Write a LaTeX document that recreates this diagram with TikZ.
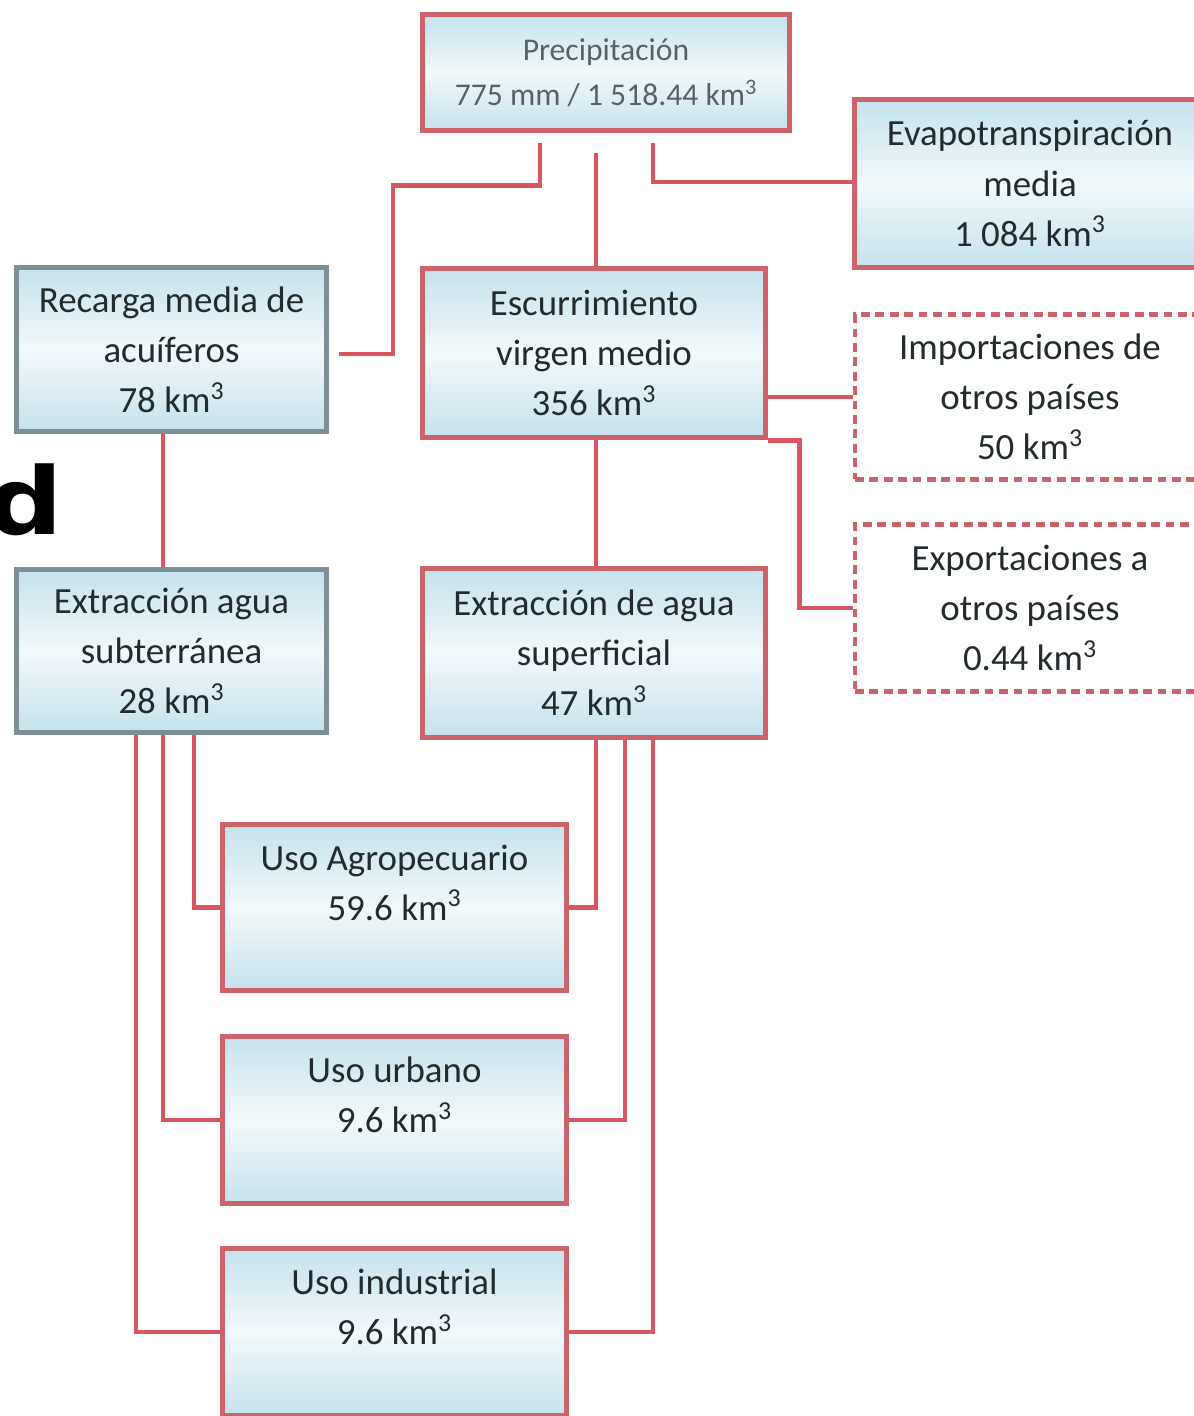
\documentclass[tikz,border=0pt]{standalone}
\usepackage{fontspec}
\setmainfont{Carlito}
\newfontfamily\bigdfont{DejaVu Sans}
\definecolor{bred}{RGB}{204,98,106}
\definecolor{cred}{RGB}{218,86,94}
\definecolor{bgray}{RGB}{125,143,148}
\definecolor{bblue}{RGB}{196,226,237}
\definecolor{bwhite}{RGB}{242,249,251}
\definecolor{txt}{RGB}{34,44,47}
\definecolor{txtl}{RGB}{85,98,102}
\begin{document}
\begin{tikzpicture}[x=0.02cm,y=-0.02cm,
  box/.style={rectangle, draw=bred, line width=3pt, top color=bblue, bottom color=bblue, middle color=bwhite,
    align=center, text=txt, font=\fontsize{21}{28.5}\selectfont, inner sep=0pt},
  gbox/.style={box, draw=bgray},
  dbox/.style={rectangle, draw=bred, line width=2.4pt, dash pattern=on 5pt off 3.2pt, fill=white,
    align=center, text=txt, font=\fontsize{21}{28.5}\selectfont, inner sep=0pt},
  conn/.style={draw=cred, line width=2.8pt}
]
\useasboundingbox (0,0) rectangle (1193,1416);
\fill[white] (0,0) rectangle (1193,1416);

% big fragment letter (cut at the left edge, as in the reference)
\node[anchor=base west, font=\bigdfont\bfseries\fontsize{53}{53}\selectfont, xscale=1.15, inner sep=0pt] (dfrag) at (-14,534) {d};

% boxes
\node[box, minimum width=7.34cm, minimum height=2.32cm, text=txtl, font=\fontsize{18}{25.5}\selectfont] (precip) at (606,72.5)
  {Precipitación\\775 mm / 1 518.44 km\textsuperscript{3}};
\node[box, minimum width=7.01cm, minimum height=3.36cm] (evap) at (1030,183.5)
  {Evapotranspiración\\media\\1 084 km\textsuperscript{3}};
\node[gbox, minimum width=6.2cm, minimum height=3.28cm] (rec) at (171.5,349.5)
  {Recarga media de\\acuíferos\\78 km\textsuperscript{3}};
\node[box, minimum width=6.86cm, minimum height=3.38cm] (esc) at (594,353)
  {Escurrimiento\\virgen medio\\356 km\textsuperscript{3}};
\node[dbox, minimum width=7.0cm, minimum height=3.3cm] (imp) at (1030,397)
  {Importaciones de\\otros países\\50 km\textsuperscript{3}};
\node[dbox, minimum width=7.0cm, minimum height=3.34cm] (exp) at (1030,608)
  {Exportaciones a\\otros países\\0.44 km\textsuperscript{3}};
\node[gbox, minimum width=6.2cm, minimum height=3.26cm] (sub) at (171.5,651)
  {Extracción agua\\subterránea\\28 km\textsuperscript{3}};
\node[box, minimum width=6.86cm, minimum height=3.38cm] (sup) at (594,653)
  {Extracción de agua\\superficial\\47 km\textsuperscript{3}};
\node[box, minimum width=6.88cm, minimum height=3.32cm] (agro) at (394.5,907.5)
  {Uso Agropecuario\\59.6 km\textsuperscript{3}\\\mbox{}};
\node[box, minimum width=6.88cm, minimum height=3.34cm] (urb) at (394.5,1120)
  {Uso urbano\\9.6 km\textsuperscript{3}\\\mbox{}};
\node[box, minimum width=6.88cm, minimum height=3.34cm] (ind) at (394.5,1332)
  {Uso industrial\\9.6 km\textsuperscript{3}\\\mbox{}};

% connectors
\draw[conn] ([shift={(-66,9.5)}]precip.south) -- ++(0,43) -- ++(-147,0) |- ([shift={(10,4.5)}]rec.east);
\draw[conn] ([shift={(-10,19.5)}]precip.south) -- ([shift={(2,0)}]esc.north);
\draw[conn] ([shift={(47,9.5)}]precip.south) |- ([shift={(0,-1.5)}]evap.west);
\draw[conn] (esc.east |- imp.west) -- (imp.west);
\draw[conn] (esc.south east) -- ++(31.5,0) |- (exp.west);
\draw[conn] ([shift={(-8.5,0)}]rec.south) -- ([shift={(-8.5,0)}]sub.north);
\draw[conn] ([shift={(2,0)}]esc.south) -- ([shift={(2,0)}]sup.north);
\draw[conn] ([shift={(22.5,0)}]sub.south) |- (agro.west);
\draw[conn] ([shift={(-8.5,0)}]sub.south) |- (urb.west);
\draw[conn] ([shift={(-35.5,0)}]sub.south) |- (ind.west);
\draw[conn] ([shift={(2,0)}]sup.south) |- (agro.east);
\draw[conn] ([shift={(31,0)}]sup.south) |- (urb.east);
\draw[conn] ([shift={(59,0)}]sup.south) |- (ind.east);
\end{tikzpicture}
\end{document}
